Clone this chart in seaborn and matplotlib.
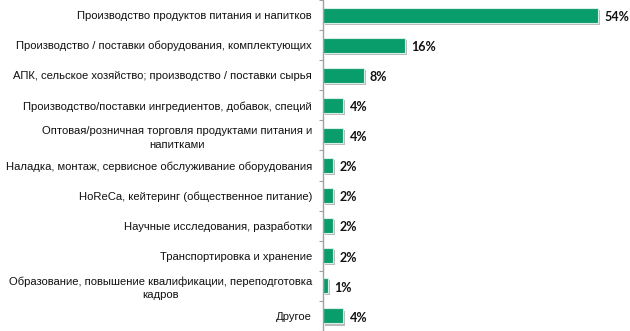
import matplotlib
matplotlib.use("Agg")
import matplotlib.pyplot as plt
import matplotlib.patheffects as pe
import seaborn as sns
import pandas as pd

categories = [
    "Производство продуктов питания и напитков",
    "Производство / поставки оборудования, комплектующих",
    "АПК, сельское хозяйство; производство / поставки сырья",
    "Производство/поставки ингредиентов, добавок, специй",
    "Оптовая/розничная торговля продуктами питания и\nнапитками",
    "Наладка, монтаж, сервисное обслуживание оборудования",
    "HoReCa, кейтеринг (общественное питание)",
    "Научные исследования, разработки",
    "Транспортировка и хранение",
    "Образование, повышение квалификации, переподготовка\nкадров",
    "Другое",
]
shares = [54, 16, 8, 4, 4, 2, 2, 2, 2, 1, 4]
value_labels = ["54%", "16%", "8%", "4%", "4%", "2%", "2%", "2%", "2%", "1%", "4%"]

df = pd.DataFrame({"category": categories, "share": shares})

sns.set_style("white")
plt.rcParams["font.family"] = ["Liberation Sans", "DejaVu Sans"]

fig = plt.figure(figsize=(6.3, 3.31), dpi=100)
ax = fig.add_axes([0.5127, 0.0, 0.4873, 1.0])

bar_color = "#0a9d6c"
sns.barplot(data=df, x="share", y="category", orient="h", color=bar_color,
            width=0.5, saturation=1, ax=ax, edgecolor="#d8efe4", linewidth=0.8)

shadow = [pe.SimplePatchShadow(offset=(1.5, -1.5), shadow_rgbFace="#8c8c8c", alpha=0.6),
          pe.Normal()]
for patch in ax.patches:
    patch.set_path_effects(shadow)

ax.set_xlim(0, 60.2)
ax.set_ylim(len(categories) - 0.5, -0.5)
ax.set_xticks([])
ax.set_xlabel("")
ax.set_ylabel("")

for side in ("top", "right", "bottom"):
    ax.spines[side].set_visible(False)
ax.spines["left"].set_color("#a0a0a0")
ax.spines["left"].set_linewidth(1.0)

# category labels without tick marks; small ticks between the categories
ax.tick_params(axis="y", which="major", length=0, pad=8, labelsize=8.15, labelcolor="#111111")
for lbl in ax.get_yticklabels():
    lbl.set_multialignment("center")
    lbl.set_linespacing(1.4)
ax.set_yticks([i + 0.5 for i in range(-1, len(categories))], minor=True)
ax.tick_params(axis="y", which="minor", length=3, width=0.8, color="#a0a0a0", left=True)

for i, (v, txt) in enumerate(zip(shares, value_labels)):
    ax.text(v + 1.2, i + 0.06, txt, va="center", ha="left",
            fontsize=9, fontweight="bold", color="#111111",
            family=["Lato", "DejaVu Sans"])

fig.savefig("out.png", dpi=100)
